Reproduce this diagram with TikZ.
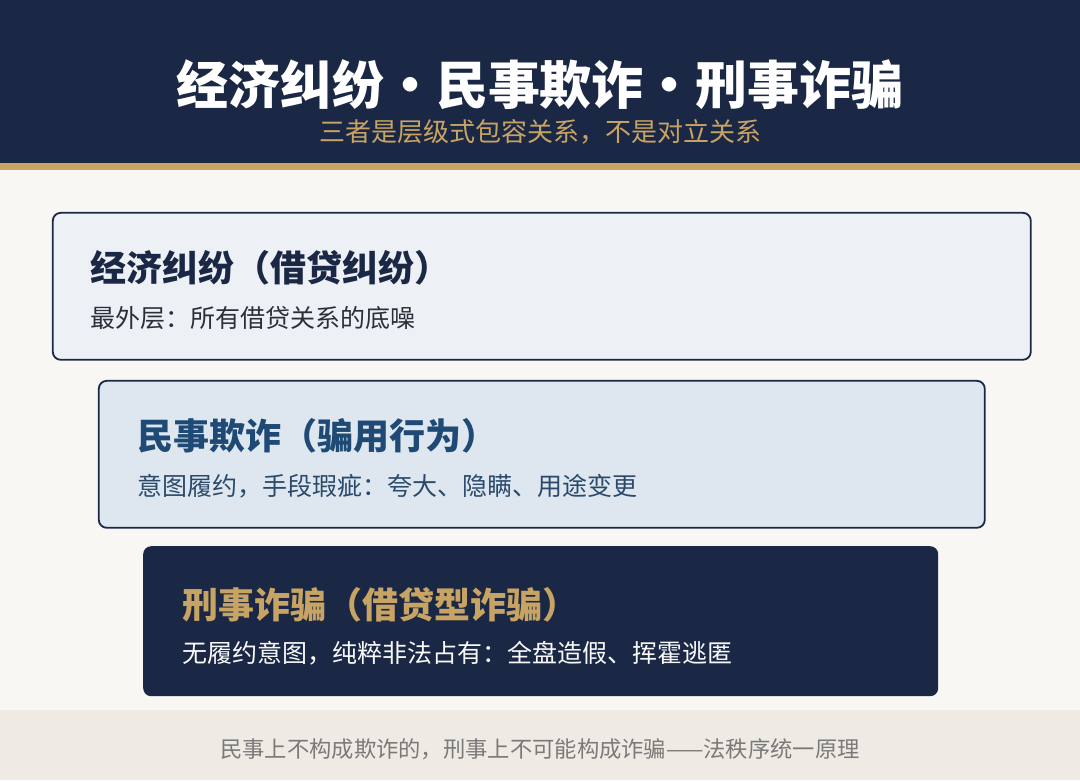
\documentclass[tikz,border=0pt]{standalone}
\usepackage{fontspec}
\setmainfont{Noto Sans CJK SC}
\usepackage{xcolor}
\usetikzlibrary{positioning}
\definecolor{navy}{HTML}{1B2845}
\definecolor{gold}{HTML}{C8A464}
\definecolor{paper}{HTML}{F8F7F3}
\definecolor{footbg}{HTML}{EFEBE4}
\definecolor{outerfill}{HTML}{EDF0F5}
\definecolor{midfill}{HTML}{DEE7F0}
\definecolor{midtext}{HTML}{1F4A75}
\definecolor{midnote}{HTML}{2B4A6B}
\definecolor{outernote}{HTML}{2A2F3A}
\definecolor{foottext}{HTML}{7A7A7A}

\begin{document}
\begin{tikzpicture}[x=1pt, y=-1pt,
    layer/.style={rounded corners=8pt, anchor=north west, minimum height=147pt, inner sep=0pt},
    layertitle/.style={anchor=base west, inner sep=0pt, font=\bfseries\fontsize{36}{36}\selectfont},
    layernote/.style={anchor=base west, inner sep=0pt, font=\fontsize{25}{25}\selectfont}]
    % background, header and footer bands
    \useasboundingbox (0,0) rectangle (1080,780);
    \fill[paper] (0,0) rectangle (1080,780);
    \fill[navy] (0,0) rectangle (1080,163);
    \fill[gold] (0,163) rectangle (1080,170);
    \fill[footbg] (0,710) rectangle (1080,780);
    \node[anchor=base, inner sep=0pt, white, font=\bfseries\fontsize{52}{52}\selectfont] (title) at (540,104) {经济纠纷•民事欺诈•刑事诈骗};
    \node[anchor=base, inner sep=0pt, gold, font=\fontsize{26}{26}\selectfont] (subtitle) at (540,141) {三者是层级式包容关系，不是对立关系};
    % three nested layers
    \node[layer, draw=navy, line width=1.8pt, fill=outerfill, minimum width=978pt] (dispute) at (51.9,211.9) {};
    \node[layertitle, navy] (disputetitle) at ([xshift=38pt, yshift=-70pt]dispute.north west) {经济纠纷（借贷纠纷）};
    \node[layernote, outernote] (disputenote) at ([xshift=38pt, yshift=-116pt]dispute.north west) {最外层：所有借贷关系的底噪};
    \node[layer, draw=navy, line width=1.8pt, fill=midfill, minimum width=886pt] (civil) at (97.9,379.9) {};
    \node[layertitle, midtext] (civiltitle) at ([xshift=39pt, yshift=-70pt]civil.north west) {民事欺诈（骗用行为）};
    \node[layernote, midnote] (civilnote) at ([xshift=39pt, yshift=-116pt]civil.north west) {意图履约，手段瑕疵：夸大、隐瞒、用途变更};
    \node[layer, fill=navy, minimum width=795pt, minimum height=150pt] (criminal) at (143,546) {};
    \node[layertitle, gold] (criminaltitle) at ([xshift=39pt, yshift=-72pt]criminal.north west) {刑事诈骗（借贷型诈骗）};
    \node[layernote, white!95!gray] (criminalnote) at ([xshift=39pt, yshift=-116pt]criminal.north west) {无履约意图，纯粹非法占有：全盘造假、挥霍逃匿};
    % footer
    \node[anchor=base, inner sep=0pt, foottext, font=\fontsize{22.3}{22.3}\selectfont] (footer) at (540,757) {民事上不构成欺诈的，刑事上不可能构成诈骗——法秩序统一原理};
\end{tikzpicture}
\end{document}
